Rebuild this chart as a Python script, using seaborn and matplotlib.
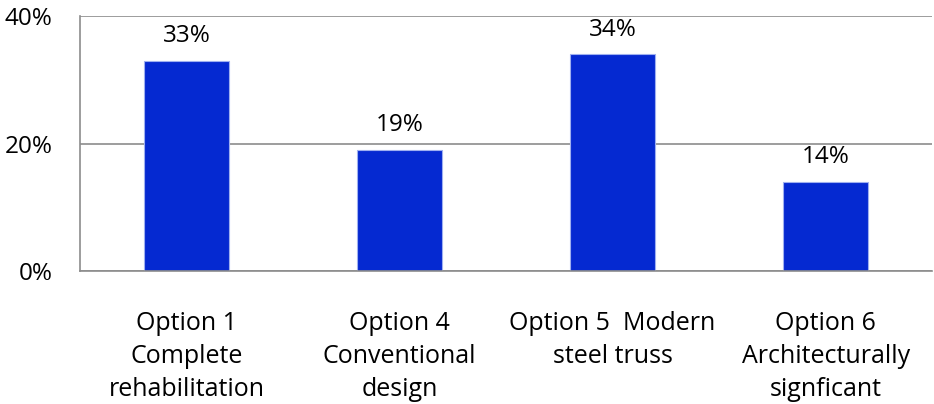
import matplotlib.pyplot as plt
import pandas as pd
import seaborn as sns
from matplotlib.ticker import FixedLocator, PercentFormatter

# Chart data
options = [
    "Option 1\nComplete\nrehabilitation",
    "Option 4\nConventional\ndesign",
    "Option 5  Modern\nsteel truss",
    "Option 6\nArchitecturally\nsignficant",
]
shares = [33, 19, 34, 14]

df = pd.DataFrame({"option": options, "share": shares})

sns.set_style("white")
plt.rcParams['font.family'] = ['Open Sans', 'DejaVu Sans']
plt.rcParams['text.color'] = 'black'
plt.rcParams['xtick.labelcolor'] = 'black'
plt.rcParams['ytick.labelcolor'] = 'black'

fig, ax = plt.subplots(figsize=(9.34, 4.04), dpi=100)
fig.subplots_adjust(left=0.0857, right=0.998, top=0.960, bottom=0.329)

sns.barplot(data=df, x="option", y="share", color="#0529D1", saturation=1,
            width=0.4, edgecolor="#9fb0f0", linewidth=0.8, ax=ax)

ax.set_ylim(0, 40)
ax.set_xlim(-0.5, len(options) - 0.5)
ax.set_yticks([0, 20, 40])
ax.yaxis.set_major_formatter(PercentFormatter(decimals=0))
ax.yaxis.grid(True, color="#8c8c8c", linewidth=1.2)
ax.set_axisbelow(True)

# category boundaries as tick marks, labels centred on the bars
ax.xaxis.set_major_locator(FixedLocator([i - 0.5 for i in range(len(options) + 1)]))
ax.xaxis.set_minor_locator(FixedLocator(list(range(len(options)))))
ax.set_xticklabels([], minor=False)
ax.set_xticklabels(options, minor=True, fontsize=18, linespacing=1.4, color="black")
ax.tick_params(axis="x", which="major", length=8, width=1.2, color="#8c8c8c", direction="out")
ax.tick_params(axis="x", which="minor", length=0, pad=29)
ax.tick_params(axis="y", length=8, width=1.2, color="#8c8c8c", direction="out",
               labelsize=17.5, pad=12, labelcolor="black")

for side in ["top", "right"]:
    ax.spines[side].set_visible(False)
for side in ["left", "bottom"]:
    ax.spines[side].set_color("#8c8c8c")
    ax.spines[side].set_linewidth(1.2)

ax.set_xlabel("")
ax.set_ylabel("")

for i, v in enumerate(shares):
    ax.text(i, v + 2.0, f"{v}%", ha="center", va="bottom", fontsize=17.5, color="black")

fig.savefig("out.png", dpi=100)
